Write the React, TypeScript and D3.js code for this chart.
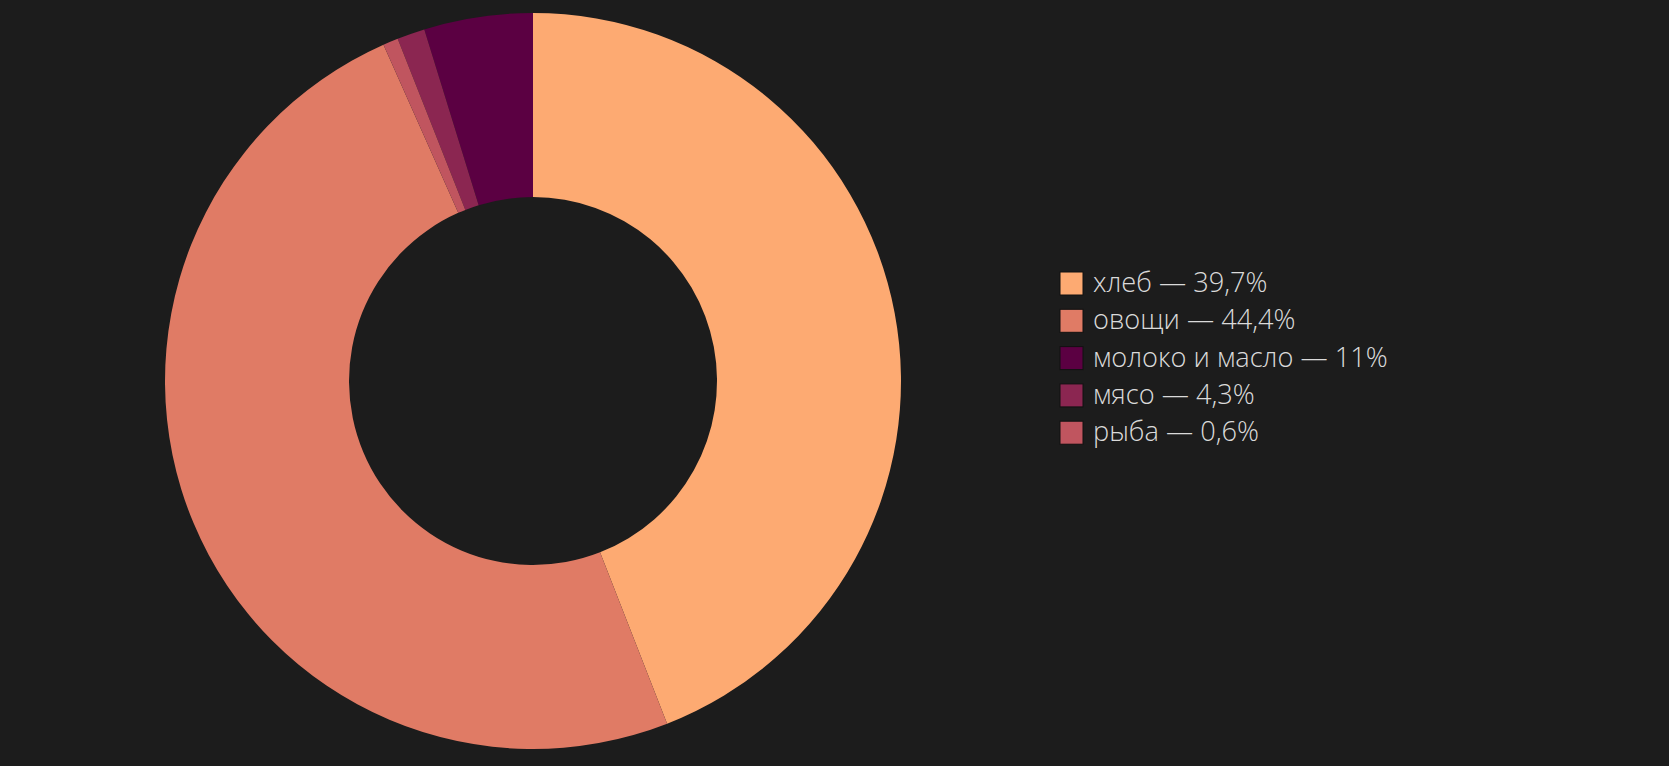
import React from "react";
import * as d3 from "d3";

const categories = ["хлеб", "овощи", "молоко и масло", "мясо", "рыба"];
const legendLabels = ["хлеб — 39,7%", "овощи — 44,4%", "молоко и масло — 11%", "мясо — 4,3%", "рыба — 0,6%"];
const values = [39.7, 44.4, 4.3, 1.1, 0.6];
const colors = ["#FDAA72", "#E07B65", "#5B0042", "#8B2651", "#C0555F"];
const drawOrder = [0, 1, 4, 3, 2];

const W = 1669;
const H = 766;

export default function App() {
  const cx = 533, cy = 381, R = 368, r = 184;
  const data = categories.map((c, i) => ({ c, v: values[i], col: colors[i], ord: drawOrder.indexOf(i) }));
  const pie = d3.pie<any>().value((d) => d.v).sort((a, b) => a.ord - b.ord);
  const arcs = pie(data);
  const arc = d3.arc<any>().innerRadius(r).outerRadius(R);
  const legendY = d3.scaleLinear().domain([0, 1]).range([283.5, 320.8]);
  return (
    <div style={{ position: "fixed", left: 0, top: 0, width: W, height: H, background: "#1c1c1c" }}>
      <svg width={W} height={H} style={{ display: "block" }}>
        <rect width={W} height={H} fill="#1c1c1c" />
        <g transform={`translate(${cx},${cy})`}>
          {arcs.map((a, i) => (
            <path key={i} d={arc(a) as string} fill={a.data.col} />
          ))}
        </g>
        <g>
          {legendLabels.map((l, i) => (
            <g key={i} transform={`translate(1060,${legendY(i)})`}>
              <rect x={0} y={-11.5} width={23} height={23} fill={colors[i]} stroke="#111" strokeWidth={1} />
              <text x={33} y={8.5} fill="#dadada" fontFamily="'Open Sans', sans-serif" fontSize={27.2} fontWeight={300}>
                {l}
              </text>
            </g>
          ))}
        </g>
      </svg>
    </div>
  );
}
